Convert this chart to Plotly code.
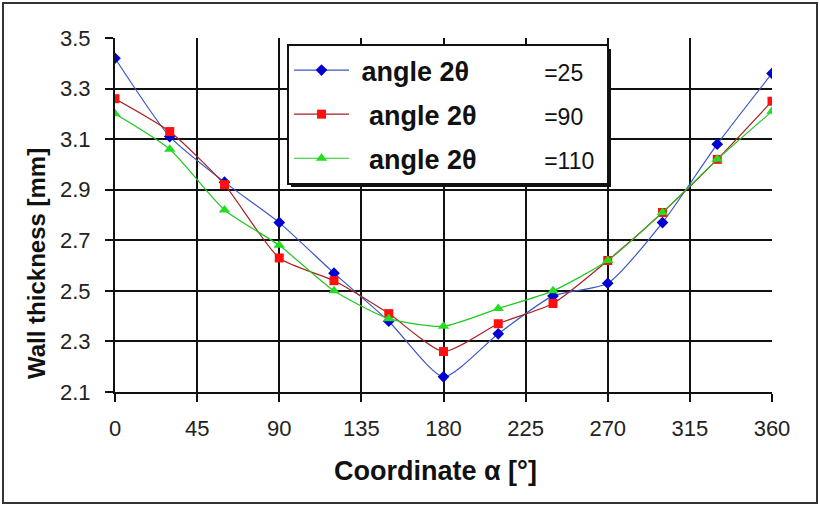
import plotly.graph_objects as go

# ---- data ----
alpha = [0, 30, 60, 90, 120, 150, 180, 210, 240, 270, 300, 330, 360]
wall_25 = [3.42, 3.11, 2.93, 2.77, 2.57, 2.38, 2.16, 2.33, 2.48, 2.53, 2.77, 3.08, 3.36]
wall_90 = [3.26, 3.13, 2.92, 2.63, 2.54, 2.41, 2.26, 2.37, 2.45, 2.62, 2.81, 3.02, 3.25]
wall_110 = [3.20, 3.06, 2.82, 2.68, 2.50, 2.39, 2.36, 2.43, 2.50, 2.62, 2.81, 3.02, 3.21]
series_labels = ["=25", "=90", "=110"]
x_ticks = [0, 45, 90, 135, 180, 225, 270, 315, 360]
y_ticks = [2.1, 2.3, 2.5, 2.7, 2.9, 3.1, 3.3, 3.5]
x_title = "Coordinate α [°]"
y_title = "Wall thickness [mm]"

W, H = 820, 505
ML, MR, MT, MB = 115, 48, 38, 113
FONT = "Liberation Sans, Arial, sans-serif"
NB = "\u00a0"
pw = W - ML - MR
ph = H - MT - MB

def px_x(p):
    return (p - ML) / pw

def px_y(p):
    return (MT + ph - p) / ph

def legend_name(lbl, lead, mid):
    return (f"<b>{NB * lead}angle 2θ</b>" + NB * mid +
            f"<span style='font-size:23px;font-weight:normal'>{lbl}</span>" + NB * 1)

fig = go.Figure()
fig.add_trace(go.Scatter(
    x=alpha, y=wall_25, mode="lines+markers", name=legend_name(series_labels[0], 1, 10),
    line=dict(color="#3a56c8", width=1.2, shape="spline", smoothing=0.6),
    marker=dict(symbol="diamond", size=9, color="#0000d0"), legendgroup="a"))
fig.add_trace(go.Scatter(
    x=alpha, y=wall_90, mode="lines+markers", name=legend_name(series_labels[1], 2, 9),
    line=dict(color="#a82020", width=1.2, shape="spline", smoothing=0.6),
    marker=dict(symbol="square", size=9, color="#ff1010"), legendgroup="b"))
fig.add_trace(go.Scatter(
    x=alpha, y=wall_110, mode="lines+markers", name=legend_name(series_labels[2], 2, 9),
    line=dict(color="#22c822", width=1.2, shape="spline", smoothing=0.6),
    marker=dict(symbol="triangle-up", size=10, color="#22dd22"), legendgroup="c"))

# outer chart frame
fig.add_shape(type="rect", xref="paper", yref="paper",
              x0=px_x(3), x1=px_x(817), y0=px_y(503), y1=px_y(3),
              line=dict(color="#333333", width=2), fillcolor="rgba(0,0,0,0)", layer="below")
# legend drop shadow
fig.add_shape(type="rect", xref="paper", yref="paper",
              x0=px_x(291), x1=px_x(611), y0=px_y(187), y1=px_y(49),
              line=dict(width=0), fillcolor="#111111", layer="above")

fig.add_annotation(text=f"<b>{x_title}</b>", xref="paper", yref="paper",
                   x=px_x(435), y=px_y(471), showarrow=False, xanchor="center", yanchor="middle",
                   font=dict(family=FONT, size=27, color="#111111"))
fig.add_annotation(text=f"<b>{y_title}</b>", xref="paper", yref="paper", textangle=-90,
                   x=px_x(36), y=px_y(264), showarrow=False, xanchor="center", yanchor="middle",
                   font=dict(family=FONT, size=24, color="#111111"))

fig.update_layout(
    width=W, height=H,
    margin=dict(l=ML, r=MR, t=MT, b=MB),
    paper_bgcolor="white", plot_bgcolor="white",
    font=dict(family=FONT, color="#111111"),
    showlegend=True,
    legend=dict(
        x=px_x(287), y=px_y(44), xanchor="left", yanchor="top",
        bgcolor="white", bordercolor="#111111", borderwidth=2,
        font=dict(family=FONT, size=27, color="#111111"),
        tracegroupgap=6, itemwidth=55,
    ),
    xaxis=dict(
        range=[0, 360], tickvals=x_ticks, ticktext=[str(v) for v in x_ticks],
        showgrid=True, gridcolor="#111111", gridwidth=2,
        showline=True, linecolor="#111111", linewidth=2,
        ticks="outside", ticklen=8, tickwidth=2, tickcolor="#111111",
        tickfont=dict(family=FONT, size=22, color="#222222"),
        ticklabelstandoff=8,
        zeroline=False,
    ),
    yaxis=dict(
        range=[2.1, 3.5], tickvals=y_ticks, ticktext=[f"{v:.1f}" for v in y_ticks],
        showgrid=True, gridcolor="#111111", gridwidth=2,
        showline=True, linecolor="#111111", linewidth=2,
        ticks="outside", ticklen=8, tickwidth=2, tickcolor="#111111",
        tickfont=dict(family=FONT, size=22, color="#222222"),
        ticklabelstandoff=10,
        zeroline=False,
    ),
)

fig.write_html("out.html")
